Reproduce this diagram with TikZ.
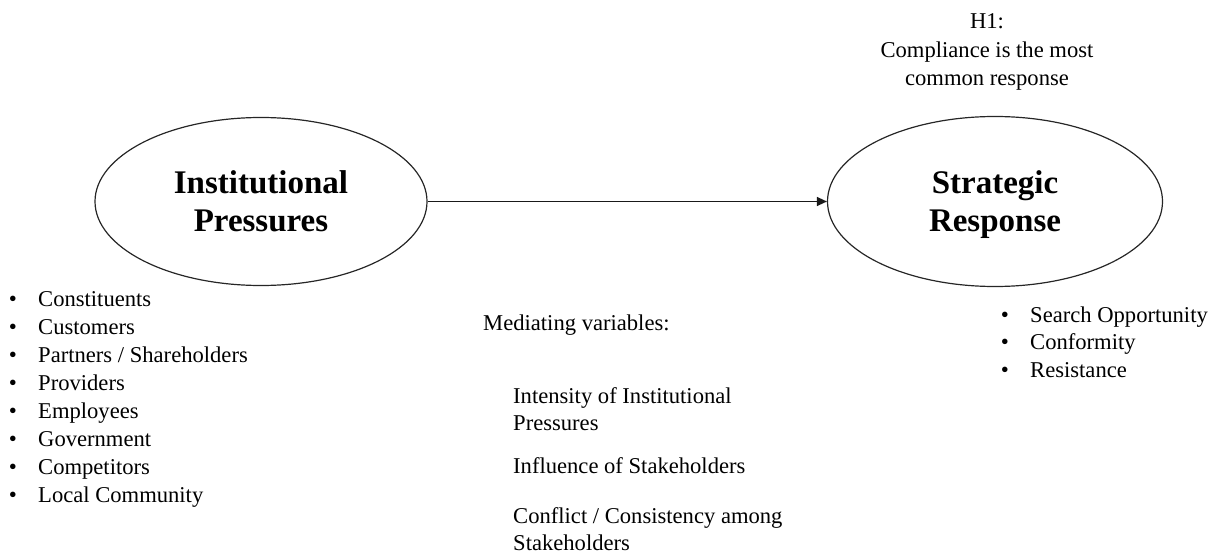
\documentclass[tikz,border=0pt]{standalone}
\usepackage{fontspec}
\setmainfont{Liberation Serif}
\usetikzlibrary{arrows.meta,shapes.geometric}
\begin{document}
\begin{tikzpicture}[x=1pt,y=-1pt,
  ell/.style={draw=black!85, line width=1.2pt, ellipse, inner sep=0pt, align=center,
              font=\fontsize{33}{38}\selectfont\bfseries, text depth=0pt},
  arr/.style={draw=black!90, line width=1.4pt, -{Triangle[length=10pt,width=9pt]}},
  txt/.style={anchor=base west, inner sep=0pt, font=\fontsize{22.6}{28}\selectfont},
  bul/.style={anchor=base, inner sep=0pt, font=\fontsize{23}{28}\selectfont}]
\useasboundingbox (0,0) rectangle (1223,556);

% ellipses
\node[ell, minimum width=332pt, minimum height=168pt] (ip) at (261,201.5) {Institutional\\Pressures};
\node[ell, minimum width=335pt, minimum height=170pt] (sr) at (995,201.5) {Strategic\\Response};
\draw[arr] (ip.east) -- (sr.west);

% hypothesis
\node[align=center, inner sep=0pt, font=\fontsize{22.6}{28.5}\selectfont] (h1) at (987,52)
  {H1:\\Compliance is the most\\common response};

% left list
\foreach \t [count=\i] in {Constituents,Customers,Partners / Shareholders,Providers,Employees,Government,Competitors,Local Community}{
  \node[bul] (lb\i) at (13,{306.5+28*(\i-1)}) {•};
  \node[txt] (lt\i) at (38,{306.5+28*(\i-1)}) {\t};
}

% right list
\foreach \t [count=\i] in {Search Opportunity,Conformity,Resistance}{
  \node[bul] (rb\i) at (1005,{322+27.5*(\i-1)}) {•};
  \node[txt] (rt\i) at (1030,{322+27.5*(\i-1)}) {\t};
}

% mediating variables
\node[txt] (mv) at (483,330) {Mediating variables:};
\node[txt] (m1) at (513,403) {Intensity of Institutional};
\node[txt] (m1b) at (513,430) {Pressures};
\node[txt] (m2) at (513,473) {Influence of Stakeholders};
\node[txt] (m3) at (513,523) {Conflict / Consistency among};
\node[txt] (m3b) at (513,550) {Stakeholders};
\end{tikzpicture}
\end{document}
